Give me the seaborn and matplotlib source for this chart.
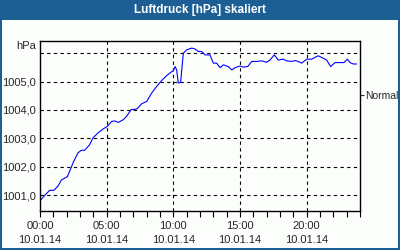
import matplotlib
matplotlib.use("Agg")
import matplotlib.pyplot as plt
import seaborn as sns
import pandas as pd
from matplotlib.patches import Rectangle

# ---- data ----
hours = [0.0, 0.35, 0.73, 1.05, 1.35, 1.6, 2.05, 2.23, 2.48, 2.85, 3.1, 3.35, 3.73, 3.98,
         4.35, 4.73, 5.05, 5.38, 5.63, 5.87, 6.25, 6.5, 6.83, 7.25, 7.63, 8.0, 8.38, 8.75,
         9.13, 9.5, 9.8, 10.0, 10.13, 10.25, 10.37, 10.55, 10.63, 10.75, 11.0, 11.38, 11.63,
         11.87, 12.13, 12.38, 12.75, 13.0, 13.25, 13.5, 13.75, 14.12, 14.38, 14.63, 15.0,
         15.25, 15.58, 15.88, 16.25, 16.63, 17.0, 17.25, 17.57, 17.87, 18.25, 18.5, 18.88,
         19.13, 19.37, 19.63, 20.0, 20.38, 20.87, 21.25, 21.5, 21.8, 22.13, 22.5, 22.8,
         23.05, 23.25, 23.5, 23.75]
pressure = [1000.80, 1000.99, 1001.17, 1001.17, 1001.32, 1001.53, 1001.65, 1001.85, 1002.14,
            1002.49, 1002.58, 1002.58, 1002.78, 1003.02, 1003.19, 1003.33, 1003.42, 1003.60,
            1003.61, 1003.56, 1003.66, 1003.78, 1004.01, 1004.03, 1004.22, 1004.30, 1004.60,
            1004.83, 1005.04, 1005.21, 1005.32, 1005.39, 1005.53, 1005.41, 1004.95, 1004.97,
            1005.41, 1006.00, 1006.12, 1006.18, 1006.15, 1006.06, 1006.06, 1005.94, 1005.94,
            1005.65, 1005.65, 1005.49, 1005.59, 1005.53, 1005.41, 1005.49, 1005.55, 1005.51,
            1005.53, 1005.71, 1005.71, 1005.73, 1005.68, 1005.76, 1005.94, 1005.76, 1005.79,
            1005.73, 1005.71, 1005.74, 1005.71, 1005.65, 1005.79, 1005.79, 1005.91, 1005.82,
            1005.76, 1005.53, 1005.67, 1005.67, 1005.67, 1005.79, 1005.67, 1005.62, 1005.62]
x_ticks = [0, 5, 10, 15, 20]
x_ticklabels = ["00:00\n10.01.14", "05:00\n10.01.14", "10:00\n10.01.14",
                "15:00\n10.01.14", "20:00\n10.01.14"]
y_ticks = [1001, 1002, 1003, 1004, 1005]
y_ticklabels = ["1001,0", "1002,0", "1003,0", "1004,0", "1005,0"]
normal_value = 1004.53
title = "Luftdruck [hPa] skaliert"
unit = "hPa"

# ---- figure ----
sns.set_style("white")
plt.rcParams["font.family"] = ["Liberation Sans", "DejaVu Sans"]
blue = "#1d5f95"
bg = "#fcfefc"

fig = plt.figure(figsize=(4, 2.5), dpi=100)
fig.patch.set_facecolor(bg)
# title bar and border
fig.patches.append(Rectangle((0, 1 - 20 / 250), 1, 20 / 250, transform=fig.transFigure,
                             facecolor=blue, edgecolor="none", zorder=0))
for (x0, y0, w, h) in [(0, 0, 2 / 400, 1), (1 - 2 / 400, 0, 2 / 400, 1), (0, 0, 1, 2 / 250)]:
    fig.patches.append(Rectangle((x0, y0), w, h, transform=fig.transFigure,
                                 facecolor=blue, edgecolor="none", zorder=0))
fig.text(0.5, 1 - 10 / 250, title, color="white", fontsize=8.5, fontweight="bold",
         ha="center", va="center")

ax = fig.add_axes([40 / 400, 1 - 211 / 250, 320 / 400, 170 / 250])
ax.set_facecolor(bg)
df = pd.DataFrame({"h": hours, "p": pressure})
sns.lineplot(data=df, x="h", y="p", ax=ax, color="#0000ff", linewidth=0.8)

ax.set_xlim(0, 24)
ax.set_ylim(1000.44, 1006.43)
ax.set_xlabel("")
ax.set_ylabel("")

ax.set_xticks(x_ticks)
ax.set_xticklabels(x_ticklabels, fontsize=8, linespacing=1.5)
ax.set_xticks(range(0, 25), minor=True)
ax.set_yticks(y_ticks + [1006])
ax.set_yticklabels(y_ticklabels + [""], fontsize=8)
ax.tick_params(axis="x", which="both", direction="out", length=4, width=0.8,
               color="black", pad=3, bottom=True)
ax.tick_params(axis="y", length=0, pad=3)

for v in [1001, 1002, 1003, 1004, 1005, 1006]:
    ax.axhline(v, color="black", linestyle=(0, (3, 3)), linewidth=0.8, zorder=1)
for v in [5, 10, 15, 20]:
    ax.axvline(v, color="black", linestyle=(0, (3, 3)), linewidth=0.8, zorder=1)

for s in ax.spines.values():
    s.set_visible(True)
    s.set_color("black")
    s.set_linewidth(1.0)

ax.text(-0.012, 0.97, unit, transform=ax.transAxes, ha="right", va="center", fontsize=8)

ax2 = ax.twinx()
ax2.set_ylim(ax.get_ylim())
ax2.set_yticks([normal_value])
ax2.set_yticklabels(["Normal"], fontsize=7.5)
ax2.tick_params(axis="y", direction="out", length=3, width=0.8, pad=1, right=True)
for s in ax2.spines.values():
    s.set_visible(False)

fig.savefig("out.png", dpi=100, facecolor=bg)
